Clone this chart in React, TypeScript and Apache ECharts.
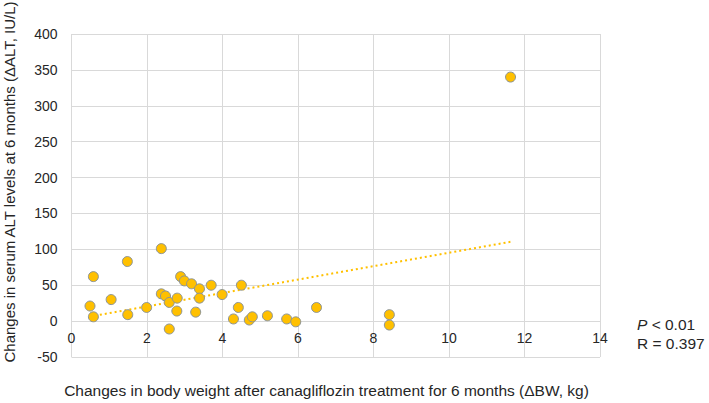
import React, { useEffect, useRef } from "react";
import * as echarts from "echarts";

const bwChange = [0.49, 0.58, 0.58, 1.05, 1.48, 1.49, 1.99, 2.38, 2.38, 2.49, 2.59, 2.59, 2.79, 2.8, 2.89, 2.99, 3.18, 3.29, 3.39, 3.39, 3.7, 3.99, 4.29, 4.42, 4.5, 4.71, 4.79, 5.19, 5.7, 5.94, 6.49, 8.42, 8.42, 11.63];
const altChange = [21, 62, 6, 30, 83, 9, 19, 101, 38, 35, 26, -11, 14, 32, 62, 56, 52, 12.5, 45, 32, 50, 37, 3, 19, 50, 1.5, 6, 7.5, 3, -1, 19, 9, -5.5, 340];
const trendX = [0.49, 11.63];
const trendY = [6.4, 110.5];
const xTicks = { min: 0, max: 14, interval: 2 };
const yTicks = { min: -50, max: 400, interval: 50 };
const xTitle = "Changes in body weight after canagliflozin treatment for 6 months (\u0394BW, kg)";
const yTitle = "Changes in serum ALT levels at 6 months (\u0394ALT, IU/L)";
const statP = "< 0.01";
const statR = "R = 0.397";

export default function App() {
  const ref = useRef<HTMLDivElement>(null);
  useEffect(() => {
    if (!ref.current) return;
    const chart = echarts.init(ref.current, null, { renderer: "svg" });
    const font = "Liberation Sans, Arial, sans-serif";
    const gridColor = "#d9d9d9";
    const textColor = "#262626";
    const plotBottom = 357;
    const zeroY = 321;
    chart.setOption({
      animation: false,
      textStyle: { fontFamily: font },
      grid: { left: 71.5, right: 109, top: 34, bottom: 403 - plotBottom, containLabel: false },
      xAxis: {
        type: "value",
        min: xTicks.min,
        max: xTicks.max,
        interval: xTicks.interval,
        offset: -(plotBottom - zeroY),
        axisLine: { show: true, onZero: false, lineStyle: { color: gridColor, width: 1 } },
        axisTick: { show: false },
        axisLabel: { color: textColor, fontSize: 14, margin: 10, fontFamily: font },
        splitLine: { show: true, lineStyle: { color: gridColor, width: 1 } },
      },
      yAxis: {
        type: "value",
        min: yTicks.min,
        max: yTicks.max,
        interval: yTicks.interval,
        axisLine: { show: false },
        axisTick: { show: false },
        axisLabel: { color: textColor, fontSize: 14, margin: 14, fontFamily: font },
        splitLine: { show: true, lineStyle: { color: gridColor, width: 1 } },
      },
      series: [
        {
          type: "line",
          data: trendX.map((x, i) => [x, trendY[i]]),
          showSymbol: false,
          symbol: "none",
          lineStyle: { color: "#FFC000", width: 2, type: [2, 3] },
          z: 2,
        },
        {
          type: "scatter",
          data: bwChange.map((x, i) => [x, altChange[i]]),
          symbolSize: 10,
          itemStyle: { color: "#FFC000", borderColor: "#8c9496", borderWidth: 1, opacity: 1 },
          z: 3,
        },
      ],
      graphic: [
        {
          type: "text",
          x: 326.5,
          y: 390,
          style: {
            text: xTitle,
            fill: textColor,
            font: `15.5px ${font}`,
            align: "center",
            verticalAlign: "middle",
          },
        },
        {
          type: "text",
          x: 9,
          y: 182,
          rotation: Math.PI / 2,
          style: {
            text: yTitle,
            fill: textColor,
            font: `15px ${font}`,
            align: "center",
            verticalAlign: "middle",
          },
        },
        {
          type: "text",
          x: 637,
          y: 324,
          style: {
            text: "{i|P} " + statP,
            fill: textColor,
            font: `15.5px ${font}`,
            verticalAlign: "middle",
            rich: { i: { fontStyle: "italic", fontSize: 15.5, fontFamily: font, fill: textColor } },
          },
        },
        {
          type: "text",
          x: 637,
          y: 343,
          style: {
            text: statR,
            fill: textColor,
            font: `15.5px ${font}`,
            verticalAlign: "middle",
          },
        },
      ],
    });
    return () => chart.dispose();
  }, []);
  return (
    <div
      ref={ref}
      style={{ position: "fixed", left: 0, top: 0, width: 709, height: 403, background: "#fff" }}
    />
  );
}
